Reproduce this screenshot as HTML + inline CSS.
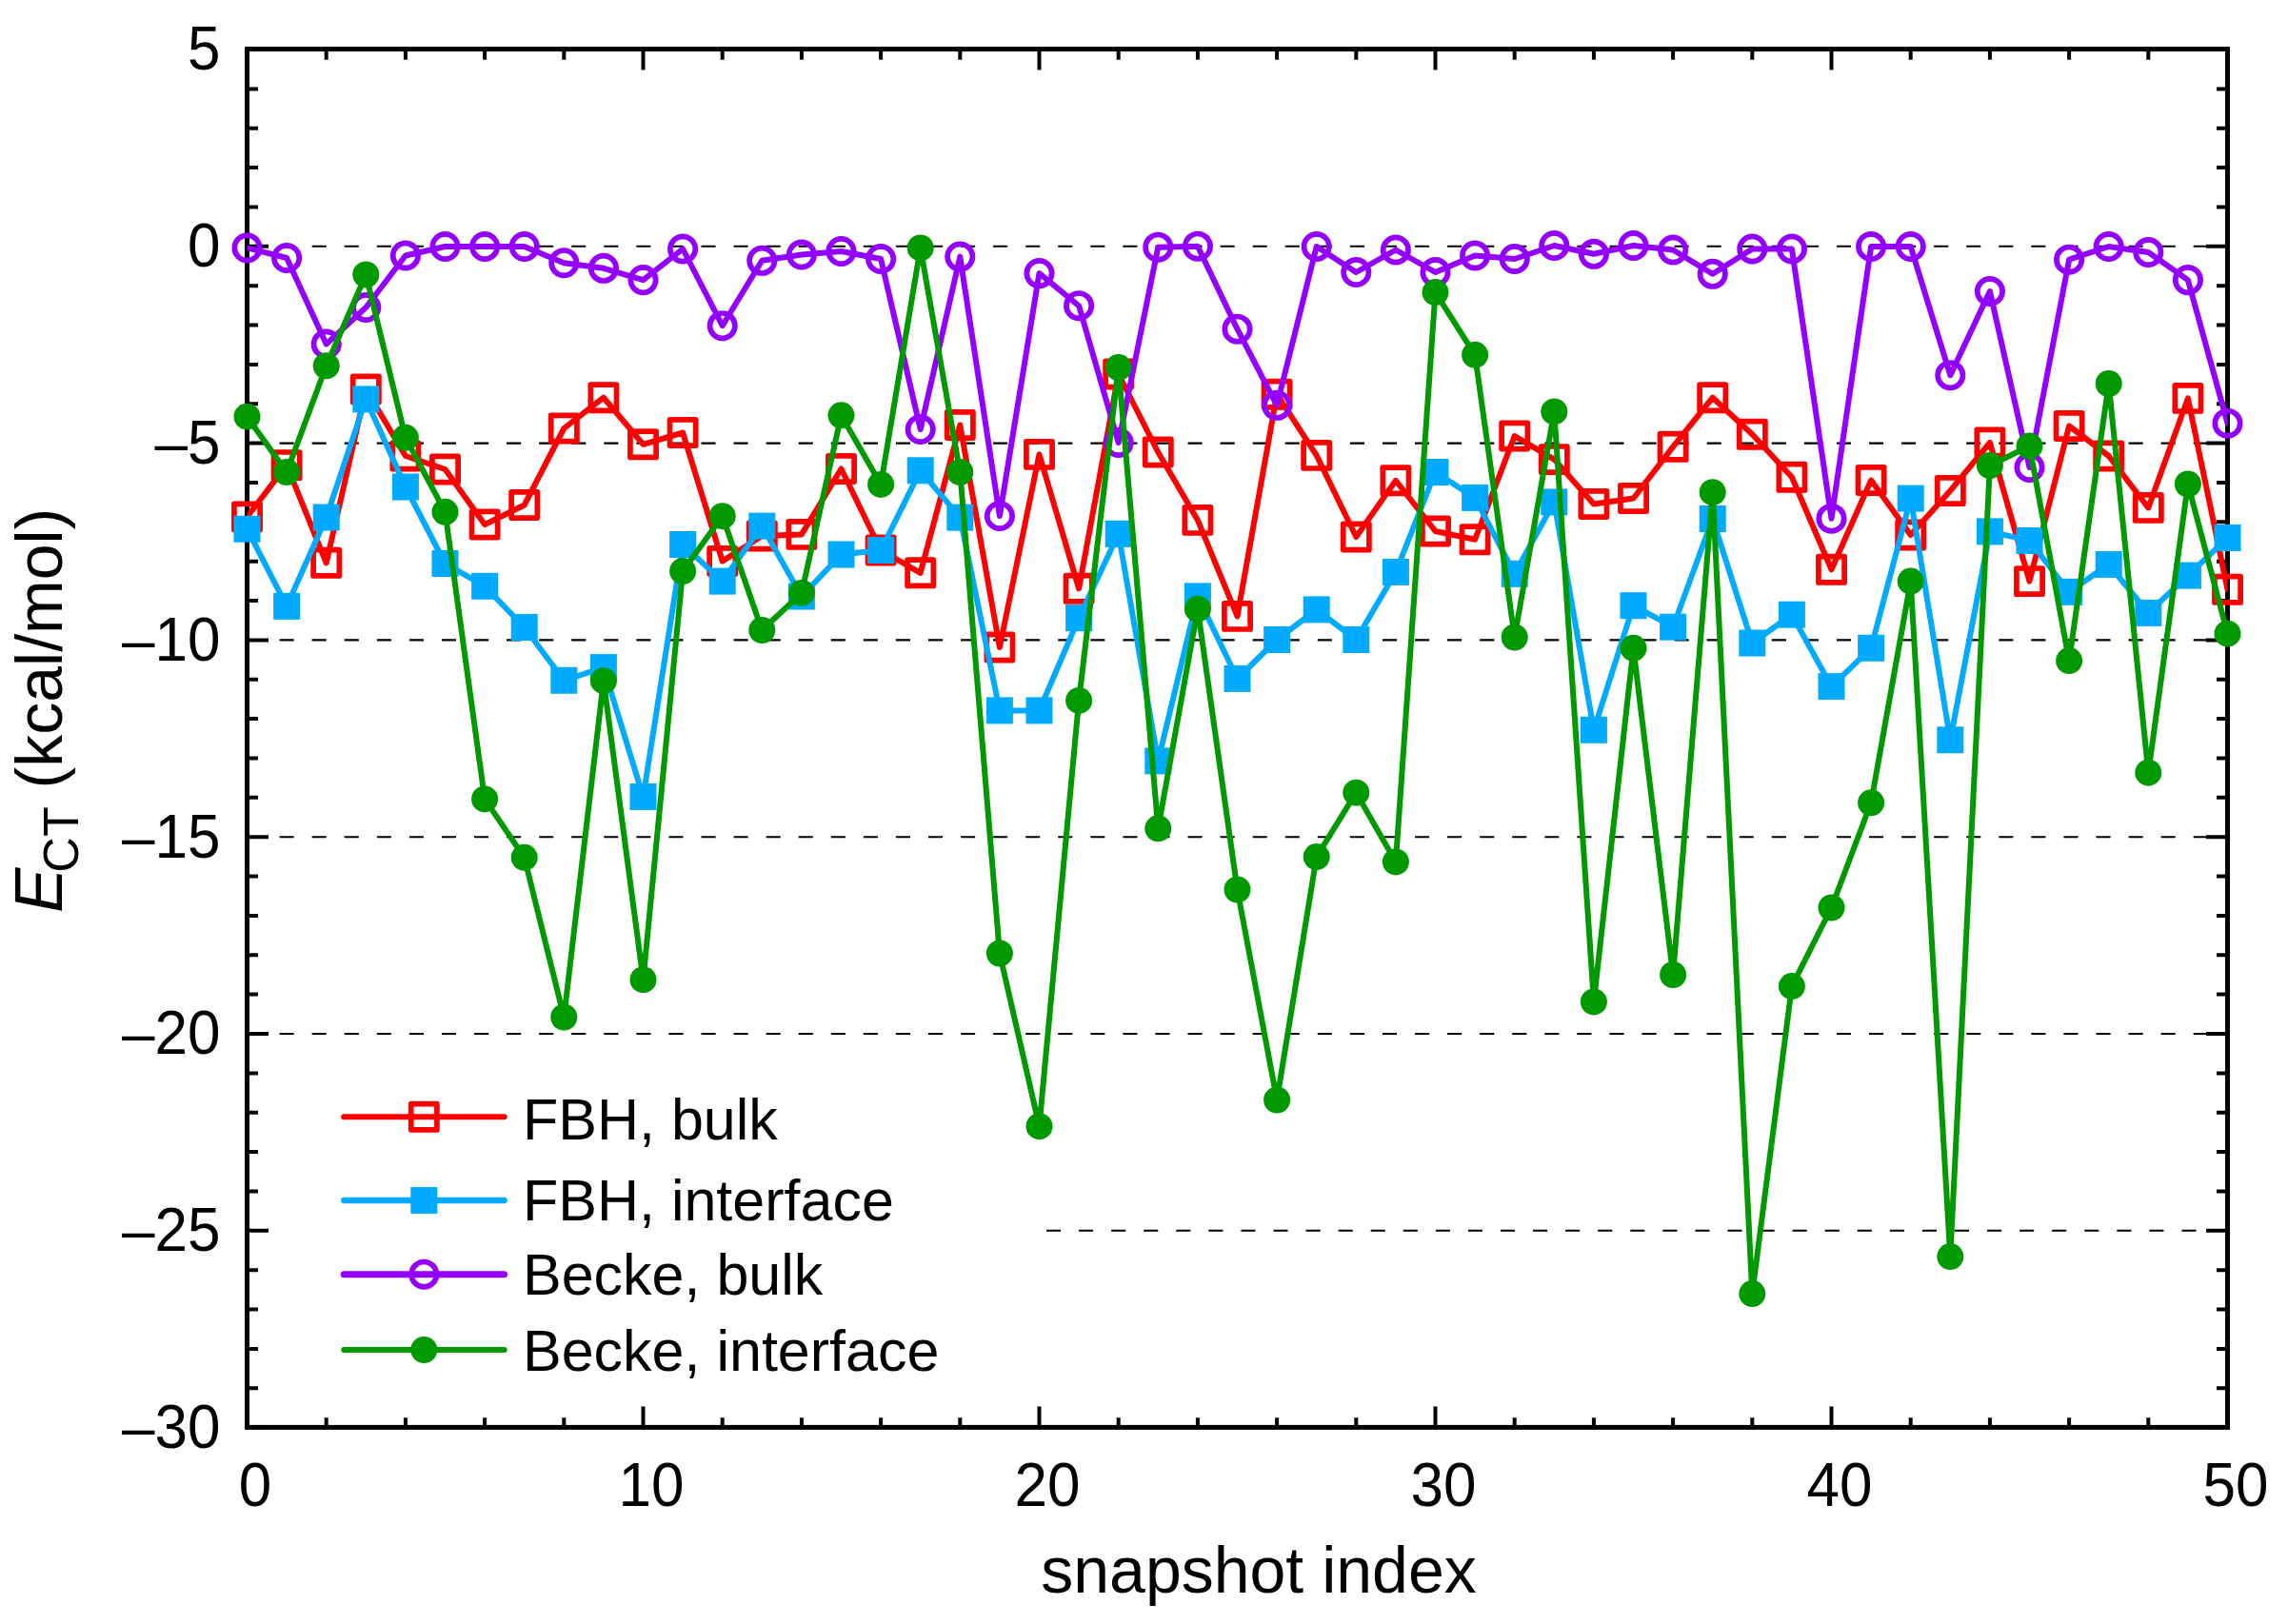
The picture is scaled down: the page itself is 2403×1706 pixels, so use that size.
<!DOCTYPE html>
<html><head><meta charset="utf-8"><title>E_CT vs snapshot index</title>
<style>
html,body{margin:0;padding:0;background:#fff}
svg{display:block}
text{font-family:"Liberation Sans",sans-serif;fill:#000}
</style></head><body>
<svg width="2403" height="1706" viewBox="0 0 2403 1706">
<rect width="2403" height="1706" fill="#fff"/>
<defs><clipPath id="pc"><rect x="259.5" y="52" width="2080" height="1447.6"/></clipPath></defs>
<g stroke="#000" stroke-width="2.1" stroke-dasharray="15.1 18.97" fill="none">
<line x1="259.5" y1="258.8" x2="2339.5" y2="258.8"/>
<line x1="259.5" y1="465.6" x2="2339.5" y2="465.6"/>
<line x1="259.5" y1="672.4" x2="2339.5" y2="672.4"/>
<line x1="259.5" y1="879.2" x2="2339.5" y2="879.2"/>
<line x1="259.5" y1="1086" x2="2339.5" y2="1086"/>
<line x1="1099" y1="1292.8" x2="2339.5" y2="1292.8"/>
</g>
<path d="M259.5 51.6v22M259.5 1499.4v-21.8M342.7 51.6v11.1M342.7 1499.4v-10.2M425.9 51.6v11.1M425.9 1499.4v-10.2M509.1 51.6v11.1M509.1 1499.4v-10.2M592.3 51.6v11.1M592.3 1499.4v-10.2M675.5 51.6v22M675.5 1499.4v-21.8M758.7 51.6v11.1M758.7 1499.4v-10.2M841.9 51.6v11.1M841.9 1499.4v-10.2M925.1 51.6v11.1M925.1 1499.4v-10.2M1008.3 51.6v11.1M1008.3 1499.4v-10.2M1091.5 51.6v22M1091.5 1499.4v-21.8M1174.7 51.6v11.1M1174.7 1499.4v-10.2M1257.9 51.6v11.1M1257.9 1499.4v-10.2M1341.1 51.6v11.1M1341.1 1499.4v-10.2M1424.3 51.6v11.1M1424.3 1499.4v-10.2M1507.5 51.6v22M1507.5 1499.4v-21.8M1590.7 51.6v11.1M1590.7 1499.4v-10.2M1673.9 51.6v11.1M1673.9 1499.4v-10.2M1757.1 51.6v11.1M1757.1 1499.4v-10.2M1840.3 51.6v11.1M1840.3 1499.4v-10.2M1923.5 51.6v22M1923.5 1499.4v-21.8M2006.7 51.6v11.1M2006.7 1499.4v-10.2M2089.9 51.6v11.1M2089.9 1499.4v-10.2M2173.1 51.6v11.1M2173.1 1499.4v-10.2M2256.3 51.6v11.1M2256.3 1499.4v-10.2M2339.5 51.6v22M2339.5 1499.4v-21.8M259.5 52h22.5M2339.5 52h-22.5M259.5 93.4h11.5M2339.5 93.4h-11.5M259.5 134.7h11.5M2339.5 134.7h-11.5M259.5 176.1h11.5M2339.5 176.1h-11.5M259.5 217.4h11.5M2339.5 217.4h-11.5M259.5 258.8h22.5M2339.5 258.8h-22.5M259.5 300.2h11.5M2339.5 300.2h-11.5M259.5 341.5h11.5M2339.5 341.5h-11.5M259.5 382.9h11.5M2339.5 382.9h-11.5M259.5 424.2h11.5M2339.5 424.2h-11.5M259.5 465.6h22.5M2339.5 465.6h-22.5M259.5 507h11.5M2339.5 507h-11.5M259.5 548.3h11.5M2339.5 548.3h-11.5M259.5 589.7h11.5M2339.5 589.7h-11.5M259.5 631h11.5M2339.5 631h-11.5M259.5 672.4h22.5M2339.5 672.4h-22.5M259.5 713.8h11.5M2339.5 713.8h-11.5M259.5 755.1h11.5M2339.5 755.1h-11.5M259.5 796.5h11.5M2339.5 796.5h-11.5M259.5 837.8h11.5M2339.5 837.8h-11.5M259.5 879.2h22.5M2339.5 879.2h-22.5M259.5 920.6h11.5M2339.5 920.6h-11.5M259.5 961.9h11.5M2339.5 961.9h-11.5M259.5 1003.3h11.5M2339.5 1003.3h-11.5M259.5 1044.6h11.5M2339.5 1044.6h-11.5M259.5 1086h22.5M2339.5 1086h-22.5M259.5 1127.4h11.5M2339.5 1127.4h-11.5M259.5 1168.7h11.5M2339.5 1168.7h-11.5M259.5 1210.1h11.5M2339.5 1210.1h-11.5M259.5 1251.4h11.5M2339.5 1251.4h-11.5M259.5 1292.8h22.5M2339.5 1292.8h-22.5M259.5 1334.2h11.5M2339.5 1334.2h-11.5M259.5 1375.5h11.5M2339.5 1375.5h-11.5M259.5 1416.9h11.5M2339.5 1416.9h-11.5M259.5 1458.2h11.5M2339.5 1458.2h-11.5M259.5 1499.6h22.5M2339.5 1499.6h-22.5" stroke="#000" stroke-width="4" fill="none"/>
<rect x="259.5" y="51.6" width="2080" height="1447.8" fill="none" stroke="#000" stroke-width="5"/>
<g stroke="#ff0000" fill="none" stroke-linejoin="round" stroke-linecap="round">
<polyline clip-path="url(#pc)" points="259.5,543 301.1,488.6 342.7,591.3 384.3,409 425.9,479 467.5,493 509.1,551 550.7,530.5 592.3,450 633.9,417.7 675.5,466.8 717.1,454.5 758.7,589.5 800.3,563 841.9,561.4 883.5,492.5 925.1,578 966.7,601.8 1008.3,446.5 1049.9,680 1091.5,477.4 1133.1,618.3 1174.7,393 1216.3,475 1257.9,546.4 1299.5,647.4 1341.1,414.2 1382.7,478.4 1424.3,564 1465.9,504.8 1507.5,558 1549.1,566.8 1590.7,458 1632.3,482.6 1673.9,529.5 1715.5,523.5 1757.1,469.3 1798.7,417.7 1840.3,456.3 1881.9,501.3 1923.5,598.3 1965.1,504.5 2006.7,562 2048.3,515.5 2089.9,465 2131.5,610.6 2173.1,447.5 2214.7,479 2256.3,533.4 2297.9,418.4 2339.5,619.3" stroke-width="6"/>
<rect x="245.9" y="529.4" width="27.2" height="27.2" stroke-width="5.7"/><rect x="287.5" y="475" width="27.2" height="27.2" stroke-width="5.7"/><rect x="329.1" y="577.7" width="27.2" height="27.2" stroke-width="5.7"/><rect x="370.7" y="395.4" width="27.2" height="27.2" stroke-width="5.7"/><rect x="412.3" y="465.4" width="27.2" height="27.2" stroke-width="5.7"/><rect x="453.9" y="479.4" width="27.2" height="27.2" stroke-width="5.7"/><rect x="495.5" y="537.4" width="27.2" height="27.2" stroke-width="5.7"/><rect x="537.1" y="516.9" width="27.2" height="27.2" stroke-width="5.7"/><rect x="578.7" y="436.4" width="27.2" height="27.2" stroke-width="5.7"/><rect x="620.3" y="404.1" width="27.2" height="27.2" stroke-width="5.7"/><rect x="661.9" y="453.2" width="27.2" height="27.2" stroke-width="5.7"/><rect x="703.5" y="440.9" width="27.2" height="27.2" stroke-width="5.7"/><rect x="745.1" y="575.9" width="27.2" height="27.2" stroke-width="5.7"/><rect x="786.7" y="549.4" width="27.2" height="27.2" stroke-width="5.7"/><rect x="828.3" y="547.8" width="27.2" height="27.2" stroke-width="5.7"/><rect x="869.9" y="478.9" width="27.2" height="27.2" stroke-width="5.7"/><rect x="911.5" y="564.4" width="27.2" height="27.2" stroke-width="5.7"/><rect x="953.1" y="588.2" width="27.2" height="27.2" stroke-width="5.7"/><rect x="994.7" y="432.9" width="27.2" height="27.2" stroke-width="5.7"/><rect x="1036.3" y="666.4" width="27.2" height="27.2" stroke-width="5.7"/><rect x="1077.9" y="463.8" width="27.2" height="27.2" stroke-width="5.7"/><rect x="1119.5" y="604.7" width="27.2" height="27.2" stroke-width="5.7"/><rect x="1161.1" y="379.4" width="27.2" height="27.2" stroke-width="5.7"/><rect x="1202.7" y="461.4" width="27.2" height="27.2" stroke-width="5.7"/><rect x="1244.3" y="532.8" width="27.2" height="27.2" stroke-width="5.7"/><rect x="1285.9" y="633.8" width="27.2" height="27.2" stroke-width="5.7"/><rect x="1327.5" y="400.6" width="27.2" height="27.2" stroke-width="5.7"/><rect x="1369.1" y="464.8" width="27.2" height="27.2" stroke-width="5.7"/><rect x="1410.7" y="550.4" width="27.2" height="27.2" stroke-width="5.7"/><rect x="1452.3" y="491.2" width="27.2" height="27.2" stroke-width="5.7"/><rect x="1493.9" y="544.4" width="27.2" height="27.2" stroke-width="5.7"/><rect x="1535.5" y="553.2" width="27.2" height="27.2" stroke-width="5.7"/><rect x="1577.1" y="444.4" width="27.2" height="27.2" stroke-width="5.7"/><rect x="1618.7" y="469" width="27.2" height="27.2" stroke-width="5.7"/><rect x="1660.3" y="515.9" width="27.2" height="27.2" stroke-width="5.7"/><rect x="1701.9" y="509.9" width="27.2" height="27.2" stroke-width="5.7"/><rect x="1743.5" y="455.7" width="27.2" height="27.2" stroke-width="5.7"/><rect x="1785.1" y="404.1" width="27.2" height="27.2" stroke-width="5.7"/><rect x="1826.7" y="442.7" width="27.2" height="27.2" stroke-width="5.7"/><rect x="1868.3" y="487.7" width="27.2" height="27.2" stroke-width="5.7"/><rect x="1909.9" y="584.7" width="27.2" height="27.2" stroke-width="5.7"/><rect x="1951.5" y="490.9" width="27.2" height="27.2" stroke-width="5.7"/><rect x="1993.1" y="548.4" width="27.2" height="27.2" stroke-width="5.7"/><rect x="2034.7" y="501.9" width="27.2" height="27.2" stroke-width="5.7"/><rect x="2076.3" y="451.4" width="27.2" height="27.2" stroke-width="5.7"/><rect x="2117.9" y="597" width="27.2" height="27.2" stroke-width="5.7"/><rect x="2159.5" y="433.9" width="27.2" height="27.2" stroke-width="5.7"/><rect x="2201.1" y="465.4" width="27.2" height="27.2" stroke-width="5.7"/><rect x="2242.7" y="519.8" width="27.2" height="27.2" stroke-width="5.7"/><rect x="2284.3" y="404.8" width="27.2" height="27.2" stroke-width="5.7"/><rect x="2325.9" y="605.7" width="27.2" height="27.2" stroke-width="5.7"/>
</g>
<g stroke="#00aaff" fill="none" stroke-linejoin="round" stroke-linecap="round">
<polyline clip-path="url(#pc)" points="259.5,555.7 301.1,636.9 342.7,543.5 384.3,419.4 425.9,511.5 467.5,592 509.1,615.8 550.7,659 592.3,714.8 633.9,701.1 675.5,837 717.1,572 758.7,610.6 800.3,552.6 841.9,626.5 883.5,582.5 925.1,578 966.7,494.3 1008.3,543.6 1049.9,746.4 1091.5,746.4 1133.1,649.2 1174.7,560.8 1216.3,799.4 1257.9,626.4 1299.5,713 1341.1,672 1382.7,640.4 1424.3,672 1465.9,601 1507.5,496 1549.1,522.9 1590.7,602.8 1632.3,527.4 1673.9,766.8 1715.5,636.2 1757.1,658.7 1798.7,545 1840.3,675.5 1881.9,645.7 1923.5,721.1 1965.1,680.8 2006.7,523.6 2048.3,777.3 2089.9,558.4 2131.5,568 2173.1,621.8 2214.7,593 2256.3,643.9 2297.9,604.6 2339.5,565" stroke-width="6"/>
<rect x="245.5" y="541.7" width="28" height="28" fill="#00aaff" stroke="none"/><rect x="287.1" y="622.9" width="28" height="28" fill="#00aaff" stroke="none"/><rect x="328.7" y="529.5" width="28" height="28" fill="#00aaff" stroke="none"/><rect x="370.3" y="405.4" width="28" height="28" fill="#00aaff" stroke="none"/><rect x="411.9" y="497.5" width="28" height="28" fill="#00aaff" stroke="none"/><rect x="453.5" y="578" width="28" height="28" fill="#00aaff" stroke="none"/><rect x="495.1" y="601.8" width="28" height="28" fill="#00aaff" stroke="none"/><rect x="536.7" y="645" width="28" height="28" fill="#00aaff" stroke="none"/><rect x="578.3" y="700.8" width="28" height="28" fill="#00aaff" stroke="none"/><rect x="619.9" y="687.1" width="28" height="28" fill="#00aaff" stroke="none"/><rect x="661.5" y="823" width="28" height="28" fill="#00aaff" stroke="none"/><rect x="703.1" y="558" width="28" height="28" fill="#00aaff" stroke="none"/><rect x="744.7" y="596.6" width="28" height="28" fill="#00aaff" stroke="none"/><rect x="786.3" y="538.6" width="28" height="28" fill="#00aaff" stroke="none"/><rect x="827.9" y="612.5" width="28" height="28" fill="#00aaff" stroke="none"/><rect x="869.5" y="568.5" width="28" height="28" fill="#00aaff" stroke="none"/><rect x="911.1" y="564" width="28" height="28" fill="#00aaff" stroke="none"/><rect x="952.7" y="480.3" width="28" height="28" fill="#00aaff" stroke="none"/><rect x="994.3" y="529.6" width="28" height="28" fill="#00aaff" stroke="none"/><rect x="1035.9" y="732.4" width="28" height="28" fill="#00aaff" stroke="none"/><rect x="1077.5" y="732.4" width="28" height="28" fill="#00aaff" stroke="none"/><rect x="1119.1" y="635.2" width="28" height="28" fill="#00aaff" stroke="none"/><rect x="1160.7" y="546.8" width="28" height="28" fill="#00aaff" stroke="none"/><rect x="1202.3" y="785.4" width="28" height="28" fill="#00aaff" stroke="none"/><rect x="1243.9" y="612.4" width="28" height="28" fill="#00aaff" stroke="none"/><rect x="1285.5" y="699" width="28" height="28" fill="#00aaff" stroke="none"/><rect x="1327.1" y="658" width="28" height="28" fill="#00aaff" stroke="none"/><rect x="1368.7" y="626.4" width="28" height="28" fill="#00aaff" stroke="none"/><rect x="1410.3" y="658" width="28" height="28" fill="#00aaff" stroke="none"/><rect x="1451.9" y="587" width="28" height="28" fill="#00aaff" stroke="none"/><rect x="1493.5" y="482" width="28" height="28" fill="#00aaff" stroke="none"/><rect x="1535.1" y="508.9" width="28" height="28" fill="#00aaff" stroke="none"/><rect x="1576.7" y="588.8" width="28" height="28" fill="#00aaff" stroke="none"/><rect x="1618.3" y="513.4" width="28" height="28" fill="#00aaff" stroke="none"/><rect x="1659.9" y="752.8" width="28" height="28" fill="#00aaff" stroke="none"/><rect x="1701.5" y="622.2" width="28" height="28" fill="#00aaff" stroke="none"/><rect x="1743.1" y="644.7" width="28" height="28" fill="#00aaff" stroke="none"/><rect x="1784.7" y="531" width="28" height="28" fill="#00aaff" stroke="none"/><rect x="1826.3" y="661.5" width="28" height="28" fill="#00aaff" stroke="none"/><rect x="1867.9" y="631.7" width="28" height="28" fill="#00aaff" stroke="none"/><rect x="1909.5" y="707.1" width="28" height="28" fill="#00aaff" stroke="none"/><rect x="1951.1" y="666.8" width="28" height="28" fill="#00aaff" stroke="none"/><rect x="1992.7" y="509.6" width="28" height="28" fill="#00aaff" stroke="none"/><rect x="2034.3" y="763.3" width="28" height="28" fill="#00aaff" stroke="none"/><rect x="2075.9" y="544.4" width="28" height="28" fill="#00aaff" stroke="none"/><rect x="2117.5" y="554" width="28" height="28" fill="#00aaff" stroke="none"/><rect x="2159.1" y="607.8" width="28" height="28" fill="#00aaff" stroke="none"/><rect x="2200.7" y="579" width="28" height="28" fill="#00aaff" stroke="none"/><rect x="2242.3" y="629.9" width="28" height="28" fill="#00aaff" stroke="none"/><rect x="2283.9" y="590.6" width="28" height="28" fill="#00aaff" stroke="none"/><rect x="2325.5" y="551" width="28" height="28" fill="#00aaff" stroke="none"/>
</g>
<g stroke="#9400ff" fill="none" stroke-linejoin="round" stroke-linecap="round">
<polyline clip-path="url(#pc)" points="259.5,260.4 301.1,271 342.7,361.5 384.3,323 425.9,268.5 467.5,259 509.1,259 550.7,259 592.3,276.2 633.9,281.8 675.5,294.1 717.1,261.5 758.7,342.2 800.3,273.8 841.9,267.5 883.5,264 925.1,272 966.7,451 1008.3,269.6 1049.9,542 1091.5,287.1 1133.1,321.2 1174.7,465 1216.3,259.7 1257.9,258.7 1299.5,345.7 1341.1,425.8 1382.7,259 1424.3,286 1465.9,262.5 1507.5,286 1549.1,268.5 1590.7,272 1632.3,258 1673.9,266.8 1715.5,258 1757.1,262.5 1798.7,287.8 1840.3,261.5 1881.9,261.5 1923.5,544.7 1965.1,259 2006.7,259 2048.3,394.2 2089.9,306 2131.5,491 2173.1,272.7 2214.7,259 2256.3,265 2297.9,294.1 2339.5,444.7" stroke-width="6"/>
<circle cx="259.5" cy="260.4" r="13.2" stroke-width="5.7"/><circle cx="301.1" cy="271" r="13.2" stroke-width="5.7"/><circle cx="342.7" cy="361.5" r="13.2" stroke-width="5.7"/><circle cx="384.3" cy="323" r="13.2" stroke-width="5.7"/><circle cx="425.9" cy="268.5" r="13.2" stroke-width="5.7"/><circle cx="467.5" cy="259" r="13.2" stroke-width="5.7"/><circle cx="509.1" cy="259" r="13.2" stroke-width="5.7"/><circle cx="550.7" cy="259" r="13.2" stroke-width="5.7"/><circle cx="592.3" cy="276.2" r="13.2" stroke-width="5.7"/><circle cx="633.9" cy="281.8" r="13.2" stroke-width="5.7"/><circle cx="675.5" cy="294.1" r="13.2" stroke-width="5.7"/><circle cx="717.1" cy="261.5" r="13.2" stroke-width="5.7"/><circle cx="758.7" cy="342.2" r="13.2" stroke-width="5.7"/><circle cx="800.3" cy="273.8" r="13.2" stroke-width="5.7"/><circle cx="841.9" cy="267.5" r="13.2" stroke-width="5.7"/><circle cx="883.5" cy="264" r="13.2" stroke-width="5.7"/><circle cx="925.1" cy="272" r="13.2" stroke-width="5.7"/><circle cx="966.7" cy="451" r="13.2" stroke-width="5.7"/><circle cx="1008.3" cy="269.6" r="13.2" stroke-width="5.7"/><circle cx="1049.9" cy="542" r="13.2" stroke-width="5.7"/><circle cx="1091.5" cy="287.1" r="13.2" stroke-width="5.7"/><circle cx="1133.1" cy="321.2" r="13.2" stroke-width="5.7"/><circle cx="1174.7" cy="465" r="13.2" stroke-width="5.7"/><circle cx="1216.3" cy="259.7" r="13.2" stroke-width="5.7"/><circle cx="1257.9" cy="258.7" r="13.2" stroke-width="5.7"/><circle cx="1299.5" cy="345.7" r="13.2" stroke-width="5.7"/><circle cx="1341.1" cy="425.8" r="13.2" stroke-width="5.7"/><circle cx="1382.7" cy="259" r="13.2" stroke-width="5.7"/><circle cx="1424.3" cy="286" r="13.2" stroke-width="5.7"/><circle cx="1465.9" cy="262.5" r="13.2" stroke-width="5.7"/><circle cx="1507.5" cy="286" r="13.2" stroke-width="5.7"/><circle cx="1549.1" cy="268.5" r="13.2" stroke-width="5.7"/><circle cx="1590.7" cy="272" r="13.2" stroke-width="5.7"/><circle cx="1632.3" cy="258" r="13.2" stroke-width="5.7"/><circle cx="1673.9" cy="266.8" r="13.2" stroke-width="5.7"/><circle cx="1715.5" cy="258" r="13.2" stroke-width="5.7"/><circle cx="1757.1" cy="262.5" r="13.2" stroke-width="5.7"/><circle cx="1798.7" cy="287.8" r="13.2" stroke-width="5.7"/><circle cx="1840.3" cy="261.5" r="13.2" stroke-width="5.7"/><circle cx="1881.9" cy="261.5" r="13.2" stroke-width="5.7"/><circle cx="1923.5" cy="544.7" r="13.2" stroke-width="5.7"/><circle cx="1965.1" cy="259" r="13.2" stroke-width="5.7"/><circle cx="2006.7" cy="259" r="13.2" stroke-width="5.7"/><circle cx="2048.3" cy="394.2" r="13.2" stroke-width="5.7"/><circle cx="2089.9" cy="306" r="13.2" stroke-width="5.7"/><circle cx="2131.5" cy="491" r="13.2" stroke-width="5.7"/><circle cx="2173.1" cy="272.7" r="13.2" stroke-width="5.7"/><circle cx="2214.7" cy="259" r="13.2" stroke-width="5.7"/><circle cx="2256.3" cy="265" r="13.2" stroke-width="5.7"/><circle cx="2297.9" cy="294.1" r="13.2" stroke-width="5.7"/><circle cx="2339.5" cy="444.7" r="13.2" stroke-width="5.7"/>
</g>
<g stroke="#009900" fill="none" stroke-linejoin="round" stroke-linecap="round">
<polyline clip-path="url(#pc)" points="259.5,437.7 301.1,496 342.7,384.3 384.3,288.5 425.9,459.8 467.5,537.8 509.1,839.4 550.7,900.8 592.3,1068.5 633.9,715.2 675.5,1029.2 717.1,600 758.7,542.2 800.3,662 841.9,622.9 883.5,436.3 925.1,508.9 966.7,260.4 1008.3,496 1049.9,1001.5 1091.5,1183.2 1133.1,735.9 1174.7,386.1 1216.3,870.3 1257.9,639.7 1299.5,934.5 1341.1,1155.5 1382.7,900.1 1424.3,832.7 1465.9,905.4 1507.5,307.1 1549.1,372.8 1590.7,669.5 1632.3,432.4 1673.9,1052.4 1715.5,680.8 1757.1,1024 1798.7,517.2 1840.3,1359.1 1881.9,1036.1 1923.5,953.5 1965.1,843.3 2006.7,610.6 2048.3,1320.1 2089.9,489 2131.5,468.6 2173.1,694.1 2214.7,403 2256.3,811.7 2297.9,508.5 2339.5,665.7" stroke-width="6"/>
<circle cx="259.5" cy="437.7" r="14" fill="#009900" stroke="none"/><circle cx="301.1" cy="496" r="14" fill="#009900" stroke="none"/><circle cx="342.7" cy="384.3" r="14" fill="#009900" stroke="none"/><circle cx="384.3" cy="288.5" r="14" fill="#009900" stroke="none"/><circle cx="425.9" cy="459.8" r="14" fill="#009900" stroke="none"/><circle cx="467.5" cy="537.8" r="14" fill="#009900" stroke="none"/><circle cx="509.1" cy="839.4" r="14" fill="#009900" stroke="none"/><circle cx="550.7" cy="900.8" r="14" fill="#009900" stroke="none"/><circle cx="592.3" cy="1068.5" r="14" fill="#009900" stroke="none"/><circle cx="633.9" cy="715.2" r="14" fill="#009900" stroke="none"/><circle cx="675.5" cy="1029.2" r="14" fill="#009900" stroke="none"/><circle cx="717.1" cy="600" r="14" fill="#009900" stroke="none"/><circle cx="758.7" cy="542.2" r="14" fill="#009900" stroke="none"/><circle cx="800.3" cy="662" r="14" fill="#009900" stroke="none"/><circle cx="841.9" cy="622.9" r="14" fill="#009900" stroke="none"/><circle cx="883.5" cy="436.3" r="14" fill="#009900" stroke="none"/><circle cx="925.1" cy="508.9" r="14" fill="#009900" stroke="none"/><circle cx="966.7" cy="260.4" r="14" fill="#009900" stroke="none"/><circle cx="1008.3" cy="496" r="14" fill="#009900" stroke="none"/><circle cx="1049.9" cy="1001.5" r="14" fill="#009900" stroke="none"/><circle cx="1091.5" cy="1183.2" r="14" fill="#009900" stroke="none"/><circle cx="1133.1" cy="735.9" r="14" fill="#009900" stroke="none"/><circle cx="1174.7" cy="386.1" r="14" fill="#009900" stroke="none"/><circle cx="1216.3" cy="870.3" r="14" fill="#009900" stroke="none"/><circle cx="1257.9" cy="639.7" r="14" fill="#009900" stroke="none"/><circle cx="1299.5" cy="934.5" r="14" fill="#009900" stroke="none"/><circle cx="1341.1" cy="1155.5" r="14" fill="#009900" stroke="none"/><circle cx="1382.7" cy="900.1" r="14" fill="#009900" stroke="none"/><circle cx="1424.3" cy="832.7" r="14" fill="#009900" stroke="none"/><circle cx="1465.9" cy="905.4" r="14" fill="#009900" stroke="none"/><circle cx="1507.5" cy="307.1" r="14" fill="#009900" stroke="none"/><circle cx="1549.1" cy="372.8" r="14" fill="#009900" stroke="none"/><circle cx="1590.7" cy="669.5" r="14" fill="#009900" stroke="none"/><circle cx="1632.3" cy="432.4" r="14" fill="#009900" stroke="none"/><circle cx="1673.9" cy="1052.4" r="14" fill="#009900" stroke="none"/><circle cx="1715.5" cy="680.8" r="14" fill="#009900" stroke="none"/><circle cx="1757.1" cy="1024" r="14" fill="#009900" stroke="none"/><circle cx="1798.7" cy="517.2" r="14" fill="#009900" stroke="none"/><circle cx="1840.3" cy="1359.1" r="14" fill="#009900" stroke="none"/><circle cx="1881.9" cy="1036.1" r="14" fill="#009900" stroke="none"/><circle cx="1923.5" cy="953.5" r="14" fill="#009900" stroke="none"/><circle cx="1965.1" cy="843.3" r="14" fill="#009900" stroke="none"/><circle cx="2006.7" cy="610.6" r="14" fill="#009900" stroke="none"/><circle cx="2048.3" cy="1320.1" r="14" fill="#009900" stroke="none"/><circle cx="2089.9" cy="489" r="14" fill="#009900" stroke="none"/><circle cx="2131.5" cy="468.6" r="14" fill="#009900" stroke="none"/><circle cx="2173.1" cy="694.1" r="14" fill="#009900" stroke="none"/><circle cx="2214.7" cy="403" r="14" fill="#009900" stroke="none"/><circle cx="2256.3" cy="811.7" r="14" fill="#009900" stroke="none"/><circle cx="2297.9" cy="508.5" r="14" fill="#009900" stroke="none"/><circle cx="2339.5" cy="665.7" r="14" fill="#009900" stroke="none"/>
</g>
<g stroke="#ff0000" fill="none" stroke-linejoin="round" stroke-linecap="round"><line x1="361.2" y1="1173.2" x2="529.6" y2="1173.2" stroke-width="6"/><rect x="431.7" y="1159.6" width="27.2" height="27.2" stroke-width="5.7"/></g>
<text x="549" y="1197" font-size="61">FBH, bulk</text>
<g stroke="#00aaff" fill="none" stroke-linejoin="round" stroke-linecap="round"><line x1="361.2" y1="1261" x2="529.6" y2="1261" stroke-width="6.3"/><rect x="431.3" y="1247" width="28" height="28" fill="#00aaff" stroke="none"/></g>
<text x="549" y="1282.2" font-size="61">FBH, interface</text>
<g stroke="#9400ff" fill="none" stroke-linejoin="round" stroke-linecap="round"><line x1="361.2" y1="1338.7" x2="529.6" y2="1338.7" stroke-width="7"/><circle cx="445.3" cy="1338.7" r="13.2" stroke-width="5.7"/></g>
<text x="549" y="1359.7" font-size="61">Becke, bulk</text>
<g stroke="#009900" fill="none" stroke-linejoin="round" stroke-linecap="round"><line x1="361.2" y1="1418" x2="529.6" y2="1418" stroke-width="6"/><circle cx="445.3" cy="1418" r="14" fill="#009900" stroke="none"/></g>
<text x="549" y="1440.2" font-size="61">Becke, interface</text>
<text transform="translate(231.5 73.3) scale(1 1.04)" font-size="62" text-anchor="end">5</text>
<text transform="translate(231.5 280.1) scale(1 1.04)" font-size="62" text-anchor="end">0</text>
<text transform="translate(231.5 486.9) scale(1 1.04)" font-size="62" text-anchor="end">–5</text>
<text transform="translate(231.5 693.7) scale(1 1.04)" font-size="62" text-anchor="end">–10</text>
<text transform="translate(231.5 900.5) scale(1 1.04)" font-size="62" text-anchor="end">–15</text>
<text transform="translate(231.5 1107.3) scale(1 1.04)" font-size="62" text-anchor="end">–20</text>
<text transform="translate(231.5 1314.1) scale(1 1.04)" font-size="62" text-anchor="end">–25</text>
<text transform="translate(231.5 1520.9) scale(1 1.04)" font-size="62" text-anchor="end">–30</text>
<text transform="translate(268 1582) scale(1 1.04)" font-size="62" text-anchor="middle">0</text>
<text transform="translate(684 1582) scale(1 1.04)" font-size="62" text-anchor="middle">10</text>
<text transform="translate(1100 1582) scale(1 1.04)" font-size="62" text-anchor="middle">20</text>
<text transform="translate(1516 1582) scale(1 1.04)" font-size="62" text-anchor="middle">30</text>
<text transform="translate(1932 1582) scale(1 1.04)" font-size="62" text-anchor="middle">40</text>
<text transform="translate(2348 1582) scale(1 1.04)" font-size="62" text-anchor="middle">50</text>
<text x="1322" y="1672.6" font-size="68" text-anchor="middle">snapshot index</text>
<text transform="translate(65.1 959) rotate(-90)" font-size="68"><tspan font-style="italic" font-size="71">E</tspan><tspan font-size="52" dx="-5" dy="16.7">CT</tspan><tspan dy="-16.7"> (kcal/mol)</tspan></text>
</svg>
</body></html>
